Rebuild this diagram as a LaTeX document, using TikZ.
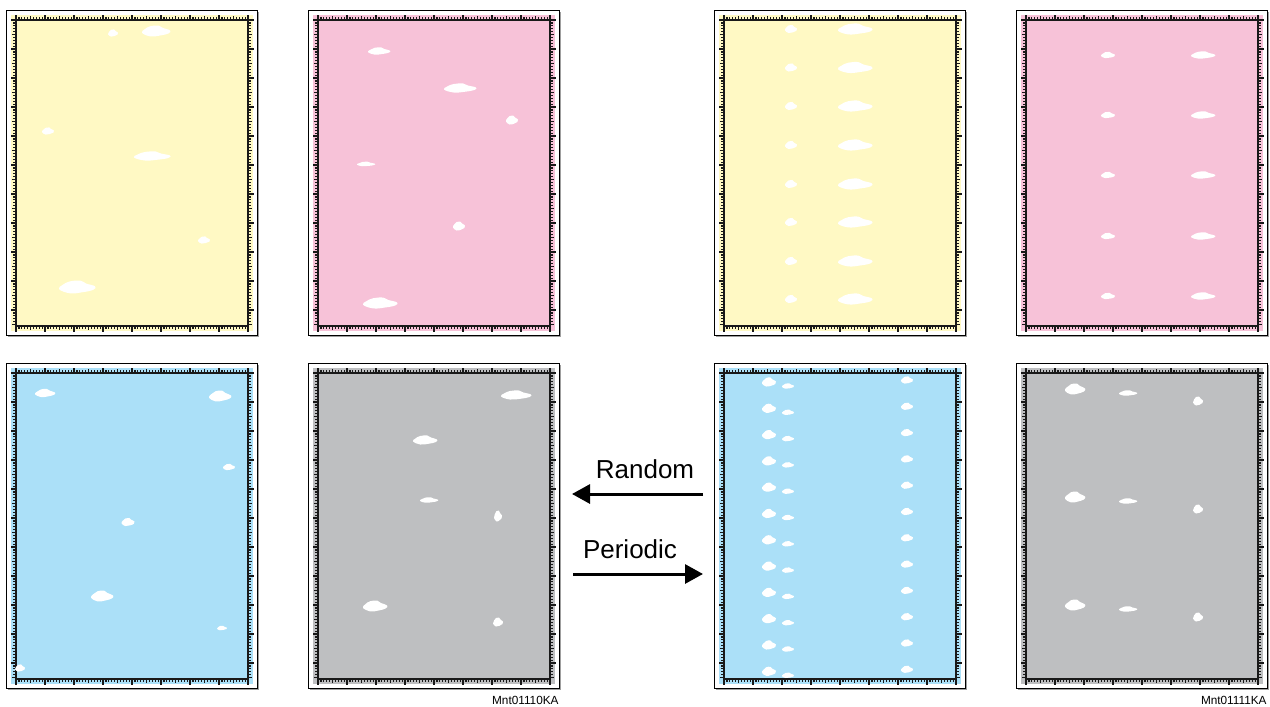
\documentclass[tikz,border=0pt]{standalone}
\usepackage{fontspec}
\setmainfont{Liberation Sans}
\usepackage{xcolor}
\usetikzlibrary{arrows.meta, positioning}

\definecolor{sheetyellow}{RGB}{255,249,196}
\definecolor{sheetpink}{RGB}{247,194,216}
\definecolor{sheetblue}{RGB}{171,224,248}
\definecolor{sheetgray}{RGB}{190,191,193}

\newcommand{\sheet}[3]{
        \fill[gray!75] (#1+2,#2+2) rectangle (#1+253,#2+327);
        \draw[line width=0.5pt, fill=white] (#1,#2) rectangle (#1+251,#2+325);
        \fill[#3] (#1+5,#2+5) rectangle (#1+247,#2+321);
        \draw[frame] (#1+10,#2+10) rectangle (#1+242,#2+316);
        \foreach \i in {0,...,80} {
            \pgfmathsetmacro{\ticklen}{ifthenelse(mod(\i,10)==0,5.5,ifthenelse(mod(\i,5)==0,4,2.6))}
            \draw[tick] (#1+10+2.9*\i,#2+10) -- ++(0,-\ticklen);
            \draw[tick] (#1+10+2.9*\i,#2+316) -- ++(0,\ticklen);
        }
        \foreach \i in {0,...,105} {
            \pgfmathsetmacro{\ticklen}{ifthenelse(mod(\i,10)==0,5.5,ifthenelse(mod(\i,5)==0,4,2.6))}
            \draw[tick] (#1+10,#2+10+2.9*\i) -- ++(-\ticklen,0);
            \draw[tick] (#1+242,#2+10+2.9*\i) -- ++(\ticklen,0);
        }
}
\newcommand{\blob}[4]{
        \fill[white, shift={(#1,#2)}, xscale=#3, yscale=#4] plot[smooth cycle, tension=0.7]
            coordinates {(-1,0.3) (-0.8,-0.3) (-0.4,-0.8) (0.2,-0.9) (0.5,-0.5) (1,-0.1) (0.9,0.4) (0.3,0.75) (-0.4,0.9)};
}

\begin{document}
\begin{tikzpicture}[x=0.5pt, y=-0.5pt]
        \tikzstyle{frame} = [line width=1.1pt, black!90]
        \tikzstyle{tick} = [line width=0.6pt, black!90]
        \tikzstyle{flow} = [draw, line width=1.5pt, -{Triangle[length=9pt, width=9.5pt]}]
        \tikzstyle{caption} = [font=\fontsize{13}{15}\selectfont, inner sep=0pt]
        \tikzstyle{code} = [font=\fontsize{5.9}{7}\selectfont, inner sep=0pt]

        \useasboundingbox (0,0) rectangle (1270,707);

        \sheet{6}{10}{sheetyellow}
        \sheet{308}{10}{sheetpink}
        \sheet{714}{10}{sheetyellow}
        \sheet{1016}{10}{sheetpink}
        \sheet{6}{363}{sheetblue}
        \sheet{308}{363}{sheetgray}
        \sheet{714}{363}{sheetblue}
        \sheet{1016}{363}{sheetgray}

        \blob{113}{33}{5}{4}
        \blob{156}{31}{14}{6}
        \blob{48}{131}{6}{4}
        \blob{152}{156}{18}{5}
        \blob{204}{240}{6}{4}
        \blob{77}{287}{18}{7}

        \blob{379}{51}{11}{4}
        \blob{460}{88}{16}{5}
        \blob{512}{120}{6}{5}
        \blob{366}{164}{9}{2.5}
        \blob{459}{226}{6}{5}
        \blob{380}{303}{17}{6}

        \foreach \y in {29,67.5,106,145,184,222,261,299} {
            \blob{791}{\y}{6}{4.5}
            \blob{855}{\y}{17}{6}
        }
        \foreach \y in {55,115,175,236,296} {
            \blob{1108}{\y}{7}{3.5}
            \blob{1203}{\y}{12}{4}
        }

        \blob{45}{393}{10}{4.5}
        \blob{220}{396}{11}{6}
        \blob{229}{467}{6}{3.5}
        \blob{128}{522}{6.5}{4.5}
        \blob{102}{596}{11}{6}
        \blob{222}{628}{5}{2.5}
        \blob{20}{668}{5}{4}

        \blob{516}{395}{15}{5}
        \blob{425}{440}{12}{5}
        \blob{429}{500}{9}{3}
        \blob{498}{516}{4}{6}
        \blob{375}{606}{12}{6}
        \blob{498}{622}{5}{5}

        \foreach \k in {0,...,11} {
            \pgfmathsetmacro{\rowy}{382+26.3*\k}
            \blob{769}{\rowy}{7}{5}
            \blob{788}{\rowy+4}{6}{3}
            \blob{907}{\rowy-2}{6}{4}
        }
        \foreach \k in {0,1,2} {
            \pgfmathsetmacro{\rowy}{389+108*\k}
            \blob{1075}{\rowy}{10}{6}
            \blob{1128}{\rowy+4}{9}{3}
            \blob{1198}{\rowy+12}{5}{5}
        }

        \coordinate (rndstart) at (703,494);
        \coordinate (rndend) at (572,494);
        \coordinate (perstart) at (573,574);
        \coordinate (perend) at (703,574);
        \path [flow] (rndstart) -- (rndend);
        \path [flow] (perstart) -- (perend);
        \node [caption, anchor=base] (random) at (645,478) {Random};
        \node [caption, anchor=base] (periodic) at (630,558) {Periodic};

        \node [code, anchor=base east] (leftcode) at (559,704) {Mnt01110KA};
        \node [code, anchor=base east] (rightcode) at (1267,704) {Mnt01111KA};
\end{tikzpicture}
\end{document}
